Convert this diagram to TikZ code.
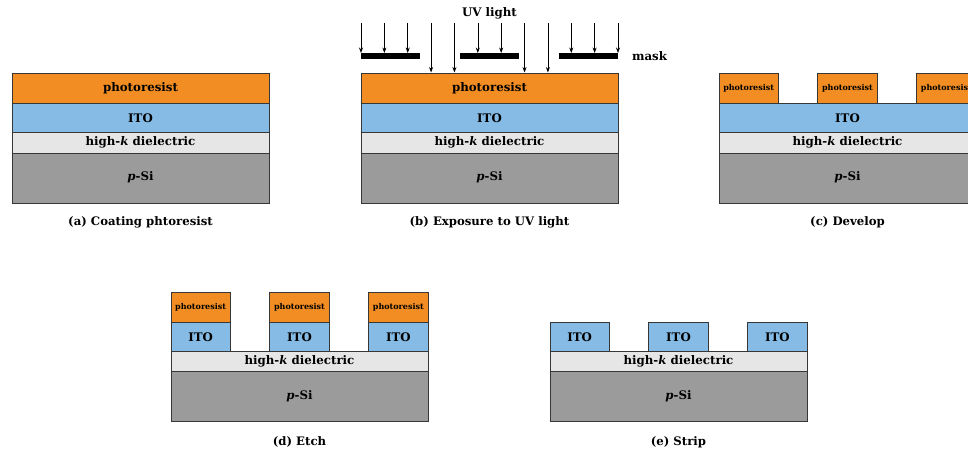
\documentclass[tikz,border=0pt]{standalone}
\usepackage{fontspec}
\setmainfont{DejaVu Serif}
\usetikzlibrary{arrows.meta,calc}

\definecolor{prOrange}{RGB}{241,141,34}
\definecolor{itoBlue}{RGB}{133,187,228}
\definecolor{hkGray}{RGB}{230,230,230}
\definecolor{siGray}{RGB}{155,155,155}
\definecolor{edgeGray}{RGB}{55,55,55}

\begin{document}
\begin{tikzpicture}[x=1pt, y=-1pt, >={Stealth[length=5.5pt,width=4pt]},
  layer/.style={draw=edgeGray, line width=0.8pt},
  lbl/.style={font=\bfseries\fontsize{11.8}{13}\selectfont, inner sep=0pt},
  slbl/.style={font=\bfseries\fontsize{8}{9}\selectfont, inner sep=0pt},
  captxt/.style={font=\bfseries\fontsize{11.7}{13}\selectfont, inner sep=0pt}]
  % page = 968 x 453, y grows downwards
  \clip (0,0) rectangle (968,453);
  \def\W{257}      % panel width
  \def\B{59.31}    % block width (3/13 of W)
  \def\P{98.85}    % block pitch (5/13 of W)

  % 1. substrate and high-k layer, same in all five panels
  \foreach \px/\py/\n in {12/132.5/a, 361/132.5/b, 719/132.5/c, 171/351/d, 550/351/e} {
    \draw[layer, fill=siGray] (\px,\py+20.5) rectangle ++(\W,50);
    \node[lbl] (si-\n) at (\px+\W/2,\py+45) {\textit{p}-Si};
    \draw[layer, fill=hkGray] (\px,\py) rectangle ++(\W,20.5);
    \node[lbl] (hk-\n) at (\px+\W/2,\py+10) {high-\textit{k} dielectric};
  }

  % 2. full ITO film in (a), (b), (c)
  \foreach \px/\n in {12/a, 361/b, 719/c} {
    \draw[layer, fill=itoBlue] (\px,103) rectangle ++(\W,29.5);
    \node[lbl] (ito-\n) at (\px+\W/2,118) {ITO};
  }

  % 3. full photoresist in (a), (b)
  \foreach \px/\n in {12/a, 361/b} {
    \draw[layer, fill=prOrange] (\px,73) rectangle ++(\W,30);
    \node[lbl] (pr-\n) at (\px+\W/2,88.5) {photoresist};
  }

  % 4. developed photoresist blocks in (c)
  \foreach \k in {0,1,2} {
    \draw[layer, fill=prOrange] (719+\k*\P,73) rectangle ++(\B,30);
    \node[slbl] (prc-\k) at (719+\k*\P+\B/2,88.5) {photoresist};
  }

  % 5. etched ITO (d), (e) and resist on top in (d)
  \foreach \k in {0,1,2} {
    \draw[layer, fill=itoBlue] (171+\k*\P,322) rectangle ++(\B,29);
    \node[lbl] (itod-\k) at (171+\k*\P+\B/2,337) {ITO};
    \draw[layer, fill=prOrange] (171+\k*\P,292) rectangle ++(\B,30);
    \node[slbl] (prd-\k) at (171+\k*\P+\B/2,307.5) {photoresist};
    \draw[layer, fill=itoBlue] (550+\k*\P,322) rectangle ++(\B,29);
    \node[lbl] (itoe-\k) at (550+\k*\P+\B/2,337) {ITO};
  }

  % 6. mask and UV light in (b)
  \foreach \k in {0,1,2}
    \fill[black] (361+\k*\P,53) rectangle ++(\B,6);
  \foreach \i/\yend in {0/53, 1/53, 2/53, 3/72.5, 4/72.5, 5/53,
                        6/53, 7/72.5, 8/72.5, 9/53, 10/53, 11/53}
    \draw[->, line width=0.6pt] (361+\i*\W/11,23) -- (361+\i*\W/11,\yend);
  \node[lbl] (uv) at (489.5,13.5) {UV light};
  \node[lbl] (mask) at (649.5,56.5) {mask};

  % 7. captions
  \node[captxt] (cap-a) at (140.5,222.5) {(a) Coating phtoresist};
  \node[captxt] (cap-b) at (489.5,222.5) {(b) Exposure to UV light};
  \node[captxt] (cap-c) at (847.5,222.5) {(c) Develop};
  \node[captxt] (cap-d) at (299.5,442) {(d) Etch};
  \node[captxt] (cap-e) at (678.5,442) {(e) Strip};
\end{tikzpicture}
\end{document}
